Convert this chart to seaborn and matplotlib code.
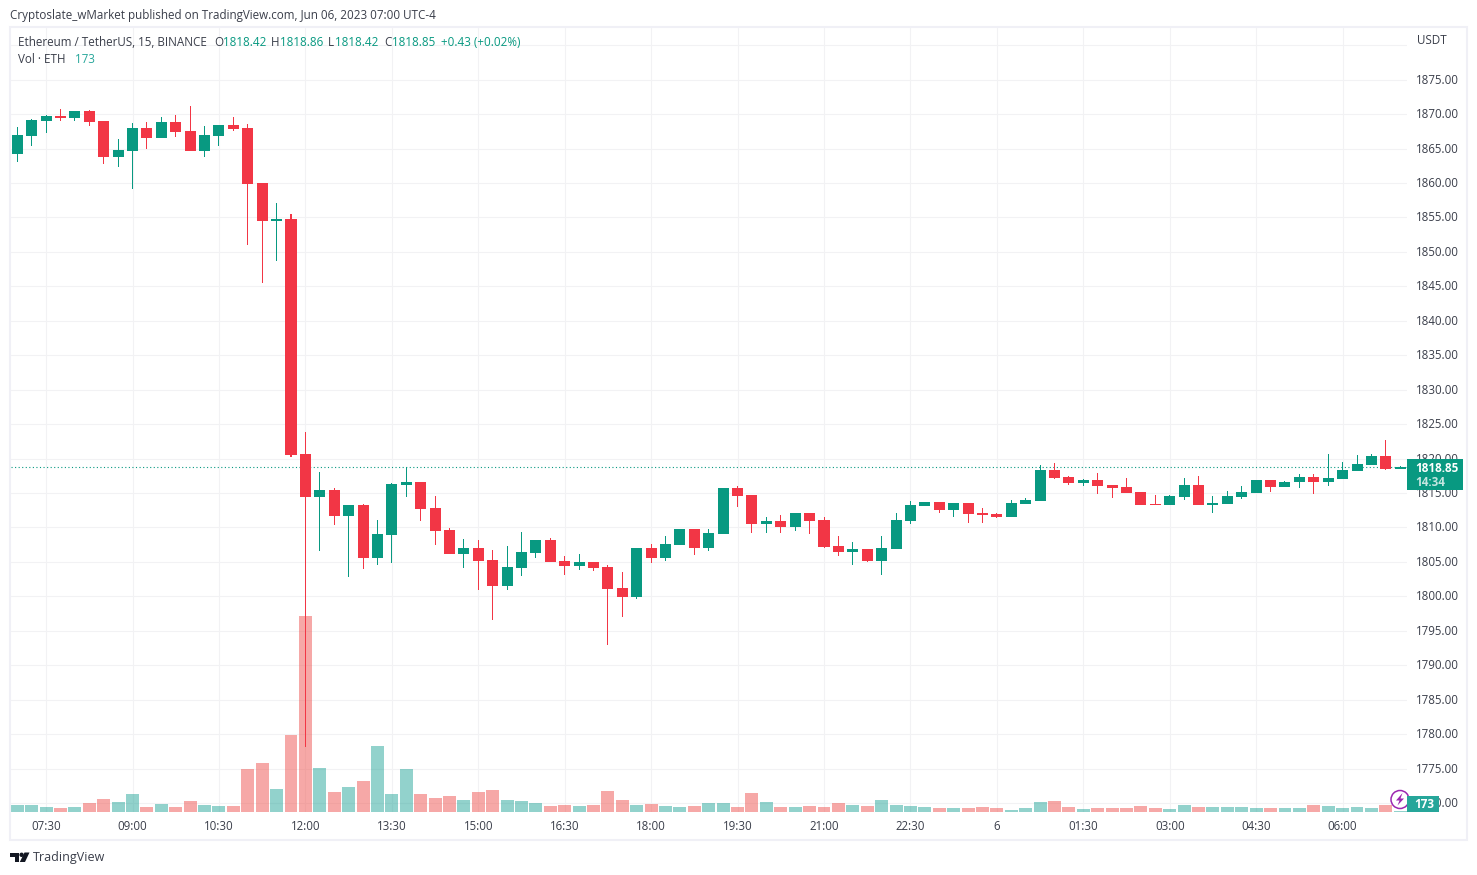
import matplotlib
matplotlib.use("Agg")
import matplotlib.pyplot as plt
from matplotlib.patches import Rectangle, Circle, Polygon
from matplotlib.transforms import ScaledTranslation
import numpy as np
import pandas as pd
import seaborn as sns

# ETH/USDT 15 min candles, 07:00 to 07:00 next day
opens = [1864.24, 1866.86, 1869.03, 1869.76, 1869.47, 1870.48, 1869.03, 1863.81, 1864.68, 1868.02,
         1866.57, 1868.89, 1867.58, 1864.68, 1866.86, 1868.45, 1868.02, 1860.03, 1854.52, 1854.81,
         1820.69, 1814.45, 1815.47, 1811.70, 1813.29, 1805.60, 1808.94, 1816.20, 1816.63, 1812.86,
         1809.66, 1806.18, 1807.05, 1805.31, 1801.54, 1804.15, 1806.33, 1808.21, 1805.16, 1804.44,
         1805.02, 1804.29, 1801.25, 1799.94, 1807.09, 1805.63, 1807.52, 1809.85, 1807.09, 1808.98,
         1815.68, 1814.66, 1810.44, 1810.87, 1810.00, 1812.04, 1811.02, 1807.38, 1806.50, 1806.94,
         1805.19, 1806.94, 1810.87, 1813.06, 1813.64, 1812.48, 1813.50, 1812.04, 1811.89, 1811.46,
         1813.35, 1813.79, 1818.30, 1817.28, 1816.41, 1816.84, 1816.12, 1815.83, 1815.10, 1813.35,
         1813.20, 1814.37, 1816.12, 1813.20, 1813.35, 1814.37, 1814.95, 1816.84, 1815.83, 1816.55,
         1817.28, 1816.55, 1816.99, 1818.16, 1819.03, 1820.34, 1818.42]
highs = [1868.16, 1869.32, 1869.90, 1870.77, 1870.48, 1870.63, 1869.03, 1866.42, 1868.74, 1868.89,
         1869.61, 1869.90, 1871.21, 1868.31, 1868.45, 1869.61, 1868.60, 1860.03, 1857.13, 1855.53,
         1823.89, 1818.08, 1815.76, 1813.29, 1813.44, 1811.12, 1816.49, 1818.81, 1816.63, 1814.60,
         1809.95, 1808.36, 1808.21, 1806.76, 1807.34, 1809.37, 1808.21, 1808.50, 1805.89, 1806.18,
         1805.02, 1804.58, 1803.57, 1807.05, 1807.67, 1808.83, 1809.85, 1809.85, 1809.71, 1815.68,
         1815.97, 1814.66, 1811.46, 1811.75, 1812.04, 1812.04, 1811.46, 1808.83, 1807.82, 1806.94,
         1808.83, 1812.04, 1813.79, 1813.64, 1813.64, 1813.50, 1813.50, 1812.77, 1812.04, 1813.93,
         1814.22, 1819.03, 1819.32, 1817.43, 1816.99, 1817.86, 1816.12, 1817.14, 1815.10, 1814.66,
         1814.66, 1817.14, 1817.43, 1814.51, 1815.24, 1815.97, 1816.84, 1816.84, 1816.70, 1817.72,
         1817.72, 1820.63, 1819.47, 1820.49, 1820.63, 1822.67, 1818.86]
lows = [1863.08, 1865.40, 1867.30, 1869.03, 1869.03, 1868.31, 1862.79, 1862.36, 1859.16, 1864.97,
        1866.57, 1866.71, 1864.68, 1863.81, 1865.40, 1867.58, 1851.03, 1845.52, 1848.71, 1820.26,
        1778.07, 1806.62, 1810.39, 1802.84, 1804.00, 1804.58, 1804.87, 1814.45, 1810.97, 1807.49,
        1806.18, 1804.15, 1800.96, 1796.60, 1800.96, 1802.99, 1805.60, 1805.02, 1803.13, 1803.86,
        1803.71, 1792.97, 1797.04, 1799.65, 1804.90, 1805.19, 1807.52, 1806.07, 1806.65, 1808.98,
        1812.91, 1809.27, 1809.27, 1809.27, 1809.56, 1808.98, 1807.09, 1805.92, 1804.61, 1805.05,
        1803.16, 1806.94, 1810.44, 1813.06, 1812.04, 1811.46, 1810.58, 1810.58, 1811.31, 1811.46,
        1813.35, 1813.79, 1816.99, 1816.12, 1815.97, 1814.81, 1814.22, 1814.95, 1813.20, 1813.20,
        1813.20, 1813.93, 1813.20, 1812.04, 1813.35, 1814.08, 1814.95, 1815.10, 1815.83, 1815.68,
        1814.81, 1815.97, 1816.99, 1818.16, 1819.03, 1818.30, 1818.42]
closes = [1867.00, 1869.18, 1869.76, 1869.47, 1870.48, 1868.89, 1863.81, 1864.82, 1868.02, 1866.57,
          1868.89, 1867.44, 1864.68, 1867.00, 1868.45, 1867.87, 1859.89, 1854.52, 1854.81, 1820.55,
          1814.45, 1815.47, 1811.70, 1813.29, 1805.60, 1809.08, 1816.34, 1816.63, 1812.71, 1809.52,
          1806.18, 1807.05, 1805.16, 1801.54, 1804.29, 1806.47, 1808.21, 1805.02, 1804.44, 1805.02,
          1804.15, 1801.10, 1799.94, 1807.05, 1805.63, 1807.67, 1809.85, 1807.09, 1809.13, 1815.68,
          1814.51, 1810.44, 1810.87, 1810.00, 1812.04, 1810.87, 1807.23, 1806.50, 1806.94, 1805.19,
          1807.09, 1811.02, 1813.20, 1813.64, 1812.48, 1813.50, 1811.89, 1811.75, 1811.46, 1813.50,
          1813.93, 1818.30, 1817.14, 1816.41, 1816.84, 1815.97, 1815.68, 1814.95, 1813.20, 1813.20,
          1814.51, 1816.12, 1813.20, 1813.50, 1814.51, 1815.10, 1816.84, 1815.83, 1816.55, 1817.28,
          1816.55, 1817.14, 1818.30, 1819.17, 1820.34, 1818.45, 1818.85]
volumes = [1160, 1160, 810, 640, 810, 1510, 2200, 1680, 3070, 810,
           1330, 810, 1860, 1160, 990, 990, 7420, 8470, 3940, 13340,
           34050, 7600, 3420, 4290, 5340, 11430, 3070, 7420, 3070, 2380,
           2730, 2030, 3420, 3770, 2090, 1910, 1570, 1040, 1220, 1040,
           1220, 3650, 2090, 1220, 1390, 1040, 870, 1040, 1570, 1570,
           870, 3310, 1740, 870, 870, 1040, 870, 1570, 1220, 1040,
           2090, 1220, 1040, 870, 700, 700, 700, 870, 700, 350,
           700, 1740, 1910, 870, 520, 700, 700, 700, 1040, 700,
           520, 1220, 870, 870, 870, 870, 700, 700, 700, 700,
           1220, 1040, 700, 870, 700, 1220, 173]

time_labels = ["07:30", "09:00", "10:30", "12:00", "13:30", "15:00", "16:30", "18:00",
               "19:30", "21:00", "22:30", "6", "01:30", "03:00", "04:30", "06:00"]
price_grid = [1770, 1775, 1780, 1785, 1790, 1795, 1800, 1805, 1810, 1815, 1820, 1825, 1830,
              1835, 1840, 1845, 1850, 1855, 1860, 1865, 1870, 1875, 1880]
last_price = 1818.85

UP = "#089981"
DOWN = "#F23645"
VOL_UP = "#26A69A"
VOL_DOWN = "#EF5350"
GRID = "#F2F2F4"
FRAME = "#F0F0F6"
TEXT = "#3A3E4A"
W, H = 1477, 875

sns.set_theme(style="white")
plt.rcParams["font.family"] = ["Open Sans", "DejaVu Sans"]

df = pd.DataFrame({"bar": np.arange(len(opens)), "open": opens, "high": highs,
                   "low": lows, "close": closes, "volume": volumes})
df["up"] = df["close"] >= df["open"]
df["body_low"] = df[["open", "close"]].min(axis=1)
df["body_high"] = df[["open", "close"]].max(axis=1)
df["zero"] = 0.0


def draw_bars(target, top, base, width, up_col, down_col, alpha=1.0):
    # one barplot per direction, native scale keeps the bars on the bar index
    for is_up, col in ((True, up_col), (False, down_col)):
        sub = df[df["up"] == is_up]
        sns.barplot(x=sub["bar"].values, y=(sub[top] - sub[base]).values, bottom=sub[base].values,
                    native_scale=True, color=col, saturation=1, width=width, errorbar=None,
                    linewidth=0, alpha=alpha, ax=target)


fig = plt.figure(figsize=(W / 100, H / 100), dpi=100, facecolor="white")
left, right, top_px, bottom_px = 11, 1407, 28, 812
ax_grid = fig.add_axes([left / W, 1 - bottom_px / H, (right - left) / W, (bottom_px - top_px) / H])
ax_vol = ax_grid.twinx()
ax = ax_grid.twinx()

# --- volume and candles ---
draw_bars(ax_vol, "volume", "zero", 0.9, VOL_UP, VOL_DOWN, alpha=0.5)
draw_bars(ax, "high", "low", 0.07, UP, DOWN)
draw_bars(ax, "body_high", "body_low", 0.765, UP, DOWN)
ax.axhline(last_price, color=UP, lw=0.8, ls=(0, (1, 2.2)), zorder=0.5)

# --- axes ---
xlim = (-0.437, 96.47)
ylim = (1768.7, 1882.5)
ax_grid.set_xlim(xlim)
ax_grid.set_ylim(ylim)
ax_vol.set_xlim(xlim)
ax_vol.set_ylim(0, 136400)
ax.set_xlim(xlim)
ax.set_ylim(ylim)
for a in (ax_vol, ax):
    a.set_yticks([])
    a.set_xticks([])
    a.set_ylabel("")
    a.set_xlabel("")
    for s in a.spines.values():
        s.set_visible(False)
for s in ax_grid.spines.values():
    s.set_visible(False)

ax_grid.set_xticks(np.arange(len(time_labels)) * 6 + 2)
ax_grid.set_xticklabels(time_labels)
ax_grid.set_yticks(price_grid)
ax_grid.set_yticklabels(["" if p == 1880 else f"{p:.2f}" for p in price_grid])
ax_grid.yaxis.tick_right()
ax_grid.tick_params(axis="x", length=0, pad=6, labelsize=8.3, labelcolor=TEXT)
ax_grid.tick_params(axis="y", length=0, pad=6.5, labelsize=8.3, labelcolor=TEXT)
ax_grid.grid(True, color=GRID, lw=0.8)
ax_grid.set_axisbelow(True)
# price labels sit one pixel higher than the grid line
up_1px = ScaledTranslation(0, 1 / 100, fig.dpi_scale_trans)
for t in ax_grid.get_yticklabels():
    t.set_transform(t.get_transform() + up_1px)

# --- overlay in pixel coordinates for the TradingView furniture ---
ov = fig.add_axes([0, 0, 1, 1], zorder=10)
ov.set_xlim(0, W)
ov.set_ylim(H, 0)
ov.axis("off")
ov.patch.set_alpha(0)

ov.add_patch(Rectangle((10, 27), 1457, 813, fill=False, ec=FRAME, lw=1.5))


def label(x, y, s, color=TEXT, size=8.35, **kw):
    ov.text(x, y, s, color=color, fontsize=size, va="center", ha="left", **kw)


label(10, 15.5, "Cryptoslate_wMarket published on TradingView.com, Jun 06, 2023 07:00 UTC-4")
label(18, 42.5, "Ethereum / TetherUS, 15, BINANCE")
for x, s, c in [(214, "O", TEXT), (223, "1818.42", UP), (271, "H", TEXT), (280, "1818.86", UP),
                (328, "L", TEXT), (335, "1818.42", UP), (384, "C", TEXT), (392, "1818.85", UP),
                (441, "+0.43 (+0.02%)", UP)]:
    label(x, 42.5, s, color=c)
label(18, 59.5, "Vol \u00b7 ETH")
label(75, 59.5, "173", color=VOL_UP)
label(1417, 41, "USDT")

# last price tag
ov.add_patch(Rectangle((1407, 459), 56, 31, fc=UP, ec="none"))
label(1415, 468, "1818.85", color="white", fontweight="bold", size=8.4)
label(1415, 482, "14:34", color="#C4E6E0", fontweight="bold", size=8.4)

# lightning badge and volume tag
ov.add_patch(Circle((1400, 799.5), 9, fc="white", ec="#9C27B0", lw=1.1))
ov.add_patch(Polygon([(1402.5, 793), (1396, 800.5), (1399.5, 800.5), (1397.5, 805.5),
                      (1404, 798.5), (1400.5, 798.5)], fc="#9C27B0", ec="none"))
ov.add_patch(Rectangle((1407, 796), 32, 16, fc=VOL_UP, ec="none"))
label(1414.5, 804, "173", color="white", fontweight="bold")

# TradingView logo
logo = "#131722"
ov.add_patch(Polygon([(10, 852.5), (19, 852.5), (19, 862), (14.5, 862), (14.5, 857), (10, 857)],
                     fc=logo, ec="none"))
ov.add_patch(Circle((21.6, 854.8), 2.2, fc=logo, ec="none"))
ov.add_patch(Polygon([(24.5, 852.5), (29.5, 852.5), (25, 862), (19.8, 862)], fc=logo, ec="none"))
label(33, 857.5, "TradingView", size=9.0)

fig.savefig("out.png", dpi=100, facecolor="white")
